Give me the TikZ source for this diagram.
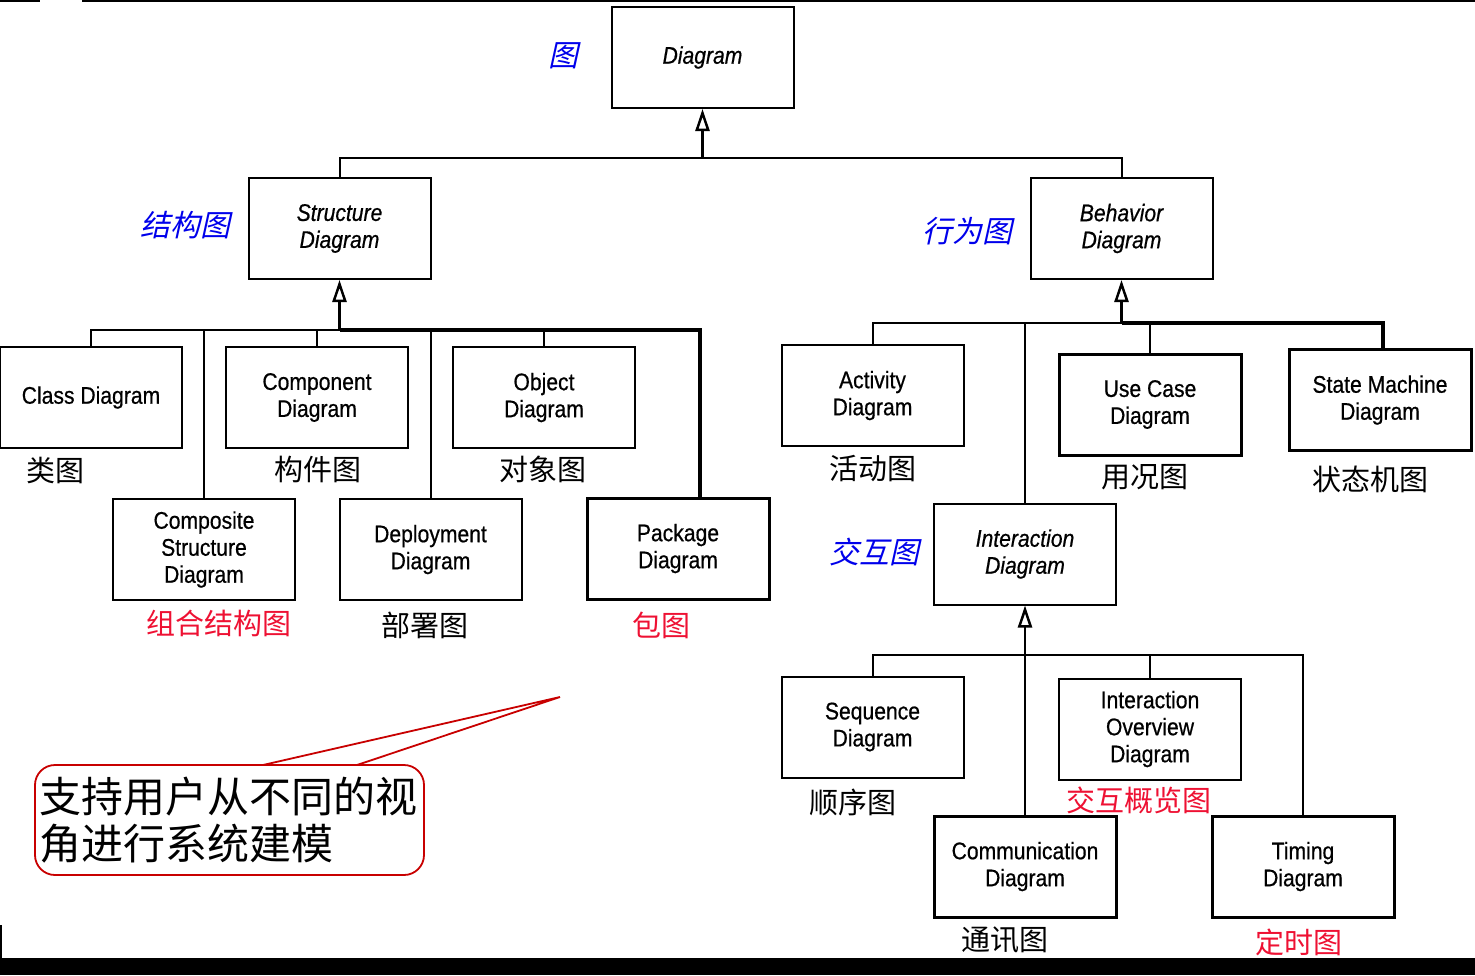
\documentclass[tikz,border=0pt]{standalone}
\usepackage{fontspec}
\usetikzlibrary{arrows.meta}
\newfontfamily\umlfont[FakeStretch=0.88,FakeBold=0.6]{Liberation Sans}
\newfontfamily\cjk{Noto Sans CJK SC}
\newfontfamily\cjkslant[FakeSlant=0.22]{Noto Sans CJK SC}
\definecolor{labblue}{RGB}{0,0,235}
\definecolor{labred}{RGB}{238,17,51}
\definecolor{calred}{RGB}{200,0,0}
\begin{document}
\begin{tikzpicture}[x=1pt,y=-1pt,
  umlbox/.style={draw, line width=2pt, minimum width=182pt, minimum height=101pt,
    inner sep=0pt, align=center, font=\umlfont\fontsize{24}{27}\selectfont},
  boldbox/.style={umlbox, line width=3pt},
  absbox/.style={umlbox, font=\umlfont\itshape\fontsize{24}{27}\selectfont},
  cnlab/.style={inner sep=0pt, font=\cjk\fontsize{29}{32}\selectfont},
  redlab/.style={cnlab, text=labred},
  bluelab/.style={inner sep=0pt, text=labblue, font=\cjkslant\fontsize{30}{32}\selectfont},
  wire/.style={line width=2pt},
  thickwire/.style={line width=4pt},
  gen/.style={line width=2.5pt, -{Triangle[open, length=22pt, width=14pt]}},
  callout/.style={draw=calred, line width=1.8pt, rounded corners=20pt,
    minimum width=389pt, minimum height=110pt, inner sep=0pt, text width=380pt,
    align=left, font=\cjk\fontsize{42}{47}\selectfont}
]
\useasboundingbox (0,0) rectangle (1475,975);
% frame artefacts
\fill[black] (0,958) rectangle (1475,975);
\draw[line width=2pt] (0,1) -- (40,1);
\draw[line width=2pt] (82,1) -- (1475,1);
\draw[line width=2pt] (1,925) -- (1,958);

% boxes
\node[absbox] (diag) at (702.5,57.5) {Diagram};
\node[absbox] (struct) at (339.5,228.5) {Structure\\Diagram};
\node[absbox] (behav) at (1121.5,228.5) {Behavior\\Diagram};
\node[umlbox] (class) at (91,397.5) {Class Diagram};
\node[umlbox] (comp) at (317,397.5) {Component\\Diagram};
\node[umlbox] (obj) at (544,397.5) {Object\\Diagram};
\node[umlbox] (cs) at (204,549.5) {Composite\\Structure\\Diagram};
\node[umlbox] (dep) at (430.5,549.5) {Deployment\\Diagram};
\node[boldbox] (pkg) at (678,548.5) {Package\\Diagram};
\node[umlbox] (act) at (872.5,395.5) {Activity\\Diagram};
\node[boldbox] (uc) at (1150,404.5) {Use Case\\Diagram};
\node[boldbox] (sm) at (1380,400) {State Machine\\Diagram};
\node[absbox] (inter) at (1025,554) {Interaction\\Diagram};
\node[umlbox] (seq) at (872.5,727) {Sequence\\Diagram};
\node[umlbox] (io) at (1150,729) {Interaction\\Overview\\Diagram};
\node[boldbox] (comm) at (1025,866.5) {Communication\\Diagram};
\node[boldbox] (tim) at (1303,866.5) {Timing\\Diagram};

% junction points
\coordinate (jt) at (702.5,158);
\coordinate (js) at (339.5,330);
\coordinate (jb) at (1121.5,323);
\coordinate (ji) at (1025,655);

% top level
\draw[gen] (jt) -- (diag.south);
\draw[wire] (struct.north) |- (jt) -| (behav.north);

% structure diagrams
\draw[gen] (js) -- (struct.south);
\draw[wire] (class.north) |- (js);
\draw[wire] (cs.north) -- (cs.north |- js);
\draw[wire] (comp.north) -- (comp.north |- js);
\draw[wire] (dep.north) -- (dep.north |- js);
\draw[wire] (obj.north) -- (obj.north |- js);
\draw[thickwire] (js) -| ([xshift=22pt]pkg.north);

% behavior diagrams
\draw[gen] (jb) -- (behav.south);
\draw[wire] (act.north) |- (jb);
\draw[wire] (inter.north) -- (inter.north |- jb);
\draw[wire] (uc.north) -- (uc.north |- jb);
\draw[thickwire] (jb) -| ([xshift=3pt]sm.north);

% interaction diagrams
\draw[gen] (ji) -- (inter.south);
\draw[wire] (seq.north) |- (ji) -| (tim.north);
\draw[wire] (comm.north) -- (ji);
\draw[wire] (io.north) -- (io.north |- ji);

% Chinese labels
\node[bluelab] (l1) at (563,56) {图};
\node[bluelab] (l2) at (185,225) {结构图};
\node[bluelab] (l3) at (967,231) {行为图};
\node[bluelab] (l4) at (874,552) {交互图};
\node[cnlab] (l5) at (55,470) {类图};
\node[cnlab] (l6) at (318,469) {构件图};
\node[cnlab] (l7) at (543,469) {对象图};
\node[redlab] (l8) at (219,623) {组合结构图};
\node[cnlab] (l9) at (425,625) {部署图};
\node[redlab] (l10) at (661,625) {包图};
\node[cnlab] (l11) at (873,469) {活动图};
\node[cnlab] (l12) at (1145,477) {用况图};
\node[cnlab] (l13) at (1370,479) {状态机图};
\node[cnlab] (l14) at (853,802) {顺序图};
\node[redlab] (l15) at (1139,800) {交互概览图};
\node[cnlab] (l16) at (1005,940) {通讯图};
\node[redlab] (l17) at (1299,942) {定时图};

% callout
\node[callout] (note) at (229.5,820) {支持用户从不同的视\\角进行系统建模};
\coordinate (tip) at (560,697);
\coordinate (pa) at (263,765);
\coordinate (pb) at (357,765);
\fill[white] ([yshift=2pt]pa) -- (tip) -- ([yshift=2pt]pb) -- cycle;
\draw[draw=calred, line width=1.8pt, line join=miter] (pa) -- (tip) -- (pb);
\end{tikzpicture}
\end{document}
